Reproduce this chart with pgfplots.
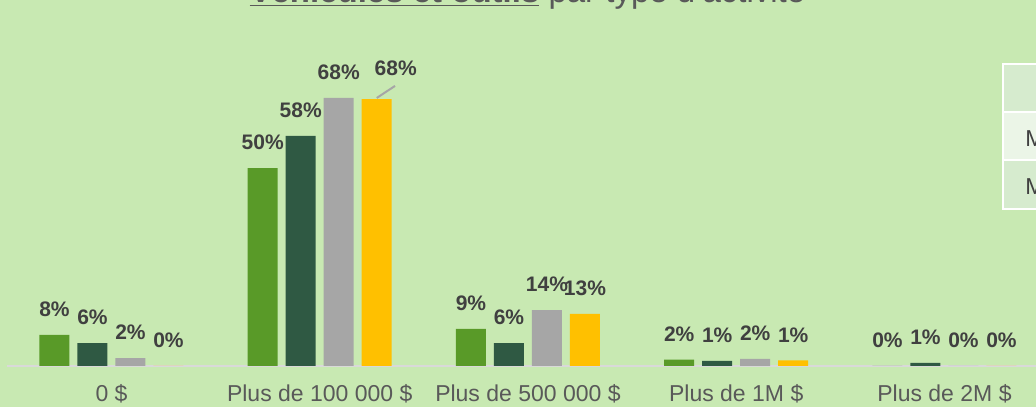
\documentclass[border=0pt]{standalone}
\usepackage{fontspec}
\setmainfont{Liberation Sans}
\usepackage{pgfplots}
\usepackage{pgfplotstable}
\pgfplotsset{compat=1.18}
\definecolor{bg}{RGB}{200,233,178}
\definecolor{cgreen}{RGB}{89,154,40}
\definecolor{cdark}{RGB}{47,89,67}
\definecolor{cgray}{RGB}{166,166,166}
\definecolor{cyellow}{RGB}{255,192,0}
\definecolor{axisgray}{RGB}{217,217,217}
\definecolor{titlegray}{RGB}{89,89,89}
\definecolor{labelgray}{RGB}{64,64,64}
\definecolor{hdr}{RGB}{214,235,206}
\definecolor{rowlight}{RGB}{235,245,231}

\pgfplotstableread{
x y
0 7.9
1 50.2
2 9.4
3 1.6
4 0.0
}\seriesA
\pgfplotstableread{
x y
0 5.8
1 58.4
2 5.8
3 1.3
4 0.8
}\seriesB
\pgfplotstableread{
x y
0 2.0
1 68.0
2 14.2
3 1.8
4 0.0
}\seriesC
\pgfplotstableread{
x y dx dy
0 0.0 0 0
1 67.7 14.25 3.75
2 13.2 0 0
3 1.4 0 0
4 0.0 0 0
}\seriesD

\begin{document}
\begin{tikzpicture}
\useasboundingbox (0,0) rectangle (777pt,305.25pt);
\clip (0,0) rectangle (777pt,305.25pt);
\fill[bg] (0,0) rectangle (777pt,305.25pt);
% title (cut off at top)
\node[anchor=base, text=titlegray, inner sep=0pt, font=\fontsize{24.75}{28}\selectfont] at (395.6pt,303pt)
  {\textbf{\underline{Véhicules et outils}} par type d'activité};
% partial table at right edge
\fill[hdr] (752.25pt,148.5pt) rectangle (800pt,257.25pt);
\fill[rowlight] (752.25pt,185.25pt) rectangle (800pt,221.25pt);
\draw[white, line width=1.5pt] (800pt,257.25pt) -- (752.25pt,257.25pt) -- (752.25pt,148.5pt) -- (800pt,148.5pt);
\draw[white, line width=1.5pt] (752.25pt,221.25pt) -- (800pt,221.25pt);
\draw[white, line width=1.5pt] (752.25pt,185.25pt) -- (800pt,185.25pt);
\node[anchor=base west, inner sep=0pt, text=labelgray, font=\fontsize{17.25}{20}\selectfont] at (768.75pt,195pt) {Maraîchage};
\node[anchor=base west, inner sep=0pt, text=labelgray, font=\fontsize{17.25}{20}\selectfont] at (768.75pt,159pt) {Moyenne};

\begin{axis}[
  at={(5.53pt,30.75pt)}, anchor=south west,
  scale only axis, width=780.9pt, height=236.5pt,
  xmin=-0.5, xmax=4.5, ymin=0, ymax=80,
  enlarge x limits=false,
  clip=false,
  /pgf/number format/assume math mode=true,
  ybar=6pt, bar width=22.5pt,
  axis y line=none,
  axis x line=bottom,
  x axis line style={draw=axisgray, line width=1.5pt, -},
  xtick={0,1,2,3,4},
  xticklabels={0 \$, Plus de 100 000 \$, Plus de 500 000 \$, Plus de 1M \$, Plus de 2M \$},
  major tick length=0pt,
  xticklabel style={anchor=base, yshift=-27pt, text=titlegray, font=\fontsize{17.25}{20}\selectfont, inner sep=0pt},
  ytick=\empty,
  nodes near coords={\pgfmathprintnumber[fixed,precision=0,assume math mode=true]{\pgfplotspointmeta}\%},
  every node near coord/.append style={inner sep=0pt, yshift=13.5pt, text=labelgray, font=\fontsize{15.75}{18}\selectfont\bfseries},
]
\addplot[fill=cgreen, draw=none] table[x=x,y=y] {\seriesA};
\addplot[fill=cdark, draw=none] table[x=x,y=y] {\seriesB};
\addplot[fill=cgray, draw=none] table[x=x,y=y] {\seriesC};
\addplot[fill=cyellow, draw=none,
  visualization depends on={\thisrow{dx} \as \dx},
  visualization depends on={\thisrow{dy} \as \dy},
  every node near coord/.append style={xshift=\dx pt, yshift=\dy pt}] table[x=x,y=y] {\seriesD};
\draw[cgray, line width=1.5pt] (axis cs:1.2737,68) -- (axis cs:1.3613,71.05);
\end{axis}
\end{tikzpicture}
\end{document}
